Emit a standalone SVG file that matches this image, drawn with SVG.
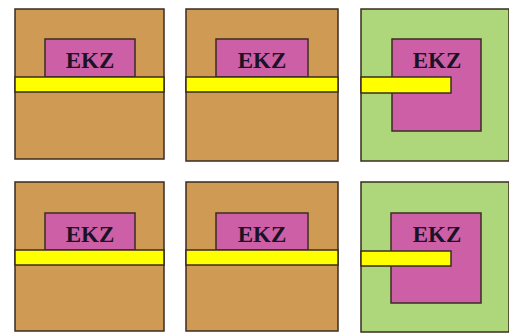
<svg xmlns="http://www.w3.org/2000/svg" width="509" height="333" viewBox="0 0 509 333">
<style>
.bg{fill:#ffffff}
.brown{fill:#cf9b54;stroke:#3b2c22;stroke-width:1.5}
.green{fill:#aed67a;stroke:#3b2c22;stroke-width:1.5}
.pink{fill:#cc5fa6;stroke:#3b2c22;stroke-width:1.5}
.yellow{fill:#ffff00;stroke:#3b2c22;stroke-width:1.5}
.lbl{font-family:"Liberation Serif","Times New Roman",serif;font-size:23px;fill:#1c1226;text-anchor:middle;font-weight:bold}
</style>
<rect class="bg" x="0" y="0" width="509" height="333"/>
<g id="panel1">
<rect class="brown" x="15" y="9" width="149" height="150"/>
<rect class="pink" x="45" y="39" width="90" height="38"/>
<rect class="yellow" x="15" y="77" width="149" height="15"/>
<text class="lbl" x="90" y="68">EKZ</text>
</g>
<g id="panel2">
<rect class="brown" x="186" y="9" width="152" height="152"/>
<rect class="pink" x="216" y="39" width="92" height="38"/>
<rect class="yellow" x="186" y="77" width="152" height="15"/>
<text class="lbl" x="262" y="68">EKZ</text>
</g>
<g id="panel3">
<rect class="green" x="361" y="9" width="148" height="152"/>
<rect class="pink" x="392" y="39" width="89" height="92"/>
<rect class="yellow" x="361" y="77" width="90" height="16"/>
<text class="lbl" x="437" y="68">EKZ</text>
</g>
<g id="panel4">
<rect class="brown" x="15" y="182" width="149" height="149"/>
<rect class="pink" x="45" y="213" width="90" height="37"/>
<rect class="yellow" x="15" y="250" width="149" height="15"/>
<text class="lbl" x="90" y="242">EKZ</text>
</g>
<g id="panel5">
<rect class="brown" x="186" y="182" width="152" height="149"/>
<rect class="pink" x="216" y="213" width="92" height="37"/>
<rect class="yellow" x="186" y="250" width="152" height="15"/>
<text class="lbl" x="262" y="242">EKZ</text>
</g>
<g id="panel6">
<rect class="green" x="361" y="182" width="148" height="150"/>
<rect class="pink" x="391" y="213" width="90" height="90"/>
<rect class="yellow" x="361" y="251" width="90" height="15"/>
<text class="lbl" x="437" y="242">EKZ</text>
</g>
<g id="connectors"></g>
</svg>
